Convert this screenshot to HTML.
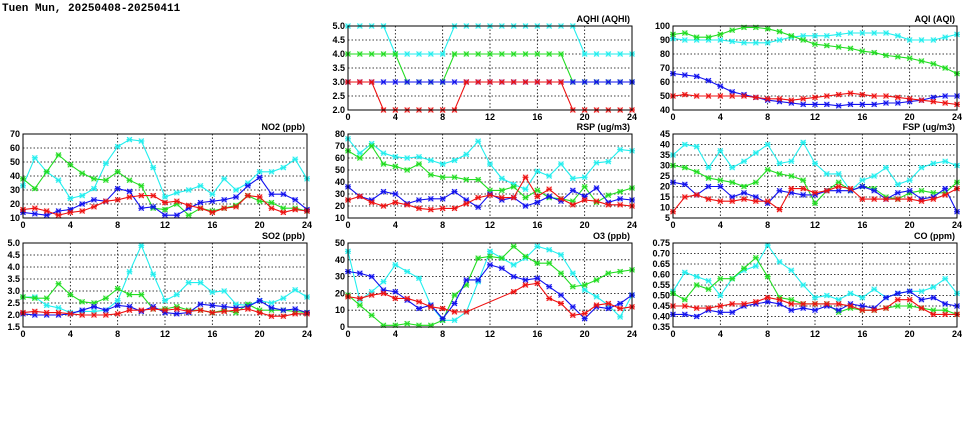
<!DOCTYPE html>
<html><head><meta charset="utf-8"><style>
body{margin:0;background:#fff;}
svg{display:block;font-family:"Liberation Sans",sans-serif;font-weight:bold;}
</style></head><body>
<svg id="s" width="975" height="447" viewBox="0 0 975 447" xmlns="http://www.w3.org/2000/svg">
<rect width="975" height="447" fill="#fff"/>
<text x="2" y="11" font-size="11" font-family="Liberation Mono, monospace" font-weight="bold">Tuen Mun, 20250408-20250411</text>
</svg>
<script>
const S=document.getElementById('s');const NS='http://www.w3.org/2000/svg';
function el(t,a,txt){const e=document.createElementNS(NS,t);for(const k in a)e.setAttribute(k,a[k]);if(txt!==undefined)e.textContent=txt;S.appendChild(e);return e;}
const C={c:'#22eeee',g:'#22dd22',b:'#1111ee',r:'#ee1111'};
function panel(x0,y0,title,min,max,step,dec,series){
 const w=284,h=84;
 const X=i=>x0+i*w/24, Y=v=>y0+h-(v-min)/(max-min)*h;
 for(let v=min;v<=max+1e-9;v+=step){const y=Y(v);
  if(v>min+1e-9&&v<max-1e-9)el('line',{x1:x0,x2:x0+w,y1:y,y2:y,stroke:'#000','stroke-width':0.8,'stroke-dasharray':'1.5,2'});
  el('text',{x:x0-3,y:y+3,'font-size':9,'text-anchor':'end'},v.toFixed(dec));}
 for(let i=0;i<=24;i+=4){const x=X(i);
  if(i>0&&i<24)el('line',{x1:x,x2:x,y1:y0,y2:y0+h,stroke:'#000','stroke-width':0.8,'stroke-dasharray':'1.5,2'});
  el('text',{x:x,y:y0+h+10,'font-size':9,'text-anchor':'middle'},i);}
 el('text',{x:x0+w-2,y:y0-4,'font-size':9,'text-anchor':'end'},title);
 for(const [k,d] of series){
  const pts=[];d.forEach((v,i)=>{if(v!==null)pts.push([X(i),Y(v)]);});
  el('polyline',{points:pts.map(p=>p.join(',')).join(' '),fill:'none',stroke:C[k],'stroke-width':1.1});
  for(const [x,y] of pts){
   el('rect',{x:x-2.5,y:y-2.5,width:5,height:5,fill:C[k],opacity:0.35});
   el('path',{d:`M${x-2.5},${y-2.5}L${x+2.5},${y+2.5}M${x+2.5},${y-2.5}L${x-2.5},${y+2.5}M${x-3},${y}H${x+3}`,stroke:C[k],'stroke-width':1});
  }
 }
 el('rect',{x:x0,y:y0,width:w,height:h,fill:'none',stroke:'#000','stroke-width':1});
}
const n=null;
panel(348,26,'AQHI (AQHI)',2,5,0.5,1,[
['c',[5,5,5,5,4,4,4,4,4,5,5,5,5,5,5,5,5,5,5,5,4,4,4,4,4]],
['g',[4,4,4,4,4,3,3,3,3,4,4,4,4,4,4,4,4,4,4,3,3,3,3,3,3]],
['b',[3,3,3,3,3,3,3,3,3,3,3,3,3,3,3,3,3,3,3,3,3,3,3,3,3]],
['r',[3,3,3,2,2,2,2,2,2,2,3,3,3,3,3,3,3,3,3,2,2,2,2,2,2]]]);
panel(673,26,'AQI (AQI)',40,100,10,0,[
['c',[91,90,90,90,90,89,88,88,88,90,92,93,93,93,94,95,95,95,95,93,90,90,90,92,94]],
['g',[94,95,92,92,94,97,99,99,98,96,93,90,87,86,85,84,82,81,79,78,77,75,73,70,66]],
['b',[66,65,64,61,57,53,51,49,47,46,45,44,44,44,43,44,44,44,45,45,46,47,49,50,50]],
['r',[50,51,50,50,50,50,50,49,48,48,47,48,49,50,51,52,51,50,50,49,48,47,46,45,44]]]);
panel(23,134,'NO2 (ppb)',10,70,10,0,[
['c',[33,53,43,37,24,26,31,49,61,66,65,46,25,28,30,33,27,38,30,35,43,43,46,52,38]],
['g',[38,31,43,55,48,42,38,37,43,37,33,17,16,20,12,17,15,17,19,26,22,21,17,17,15]],
['b',[14,13,12,15,16,20,23,22,31,29,17,18,12,12,17,21,22,23,25,33,39,27,27,23,16]],
['r',[16,17,15,12,14,15,18,22,23,25,26,26,21,22,19,17,14,17,18,26,25,17,14,16,15]]]);
panel(348,134,'RSP (ug/m3)',10,80,10,0,[
['c',[76,64,72,64,61,60,61,58,55,58,63,74,55,43,38,34,49,45,55,43,44,56,57,67,66]],
['g',[66,60,70,55,53,50,55,46,44,44,42,42,33,33,36,27,33,27,26,24,36,23,29,32,35]],
['b',[36,28,25,32,30,22,25,26,26,32,25,19,30,25,27,20,23,28,24,33,28,35,23,26,25]],
['r',[25,28,23,20,23,21,18,17,18,18,22,27,29,27,27,44,28,34,26,21,25,24,21,21,20]]]);
panel(673,134,'FSP (ug/m3)',5,45,5,0,[
['c',[35,40,39,29,37,29,32,36,40,31,32,41,31,26,26,18,23,25,29,21,23,29,31,32,30]],
['g',[30,29,27,24,23,22,20,22,28,26,25,23,12,18,22,18,20,19,15,14,17,18,17,17,22]],
['b',[22,21,16,20,20,15,17,15,12,18,17,16,16,18,18,18,20,18,14,17,18,14,15,19,8]],
['r',[8,15,16,14,13,13,14,13,13,9,19,19,17,18,20,19,14,14,14,14,14,13,14,16,19]]]);
panel(23,243,'SO2 (ppb)',1.5,5,0.5,1,[
['c',[2.75,2.75,2.4,2.3,2.1,2.15,2.15,2.2,2.6,3.8,4.9,3.7,2.6,2.85,3.35,3.35,2.95,3.0,2.45,2.4,2.6,2.5,2.7,3.05,2.75]],
['g',[2.75,2.7,2.7,3.3,2.85,2.55,2.5,2.7,3.1,2.85,2.85,2.25,2.25,2.35,2.2,2.2,2.1,2.2,2.1,2.45,2.2,2.2,2.2,2.15,2.1]],
['b',[2.05,2.0,2.0,2.0,2.05,2.2,2.35,2.2,2.4,2.35,2.15,2.35,2.1,2.05,2.1,2.45,2.4,2.35,2.3,2.35,2.6,2.3,2.2,2.25,2.1]],
['r',[2.1,2.15,2.1,2.1,2.05,2.0,2.0,2.0,2.05,2.2,2.2,2.25,2.2,2.25,2.15,2.2,2.1,2.15,2.2,2.25,2.1,1.95,1.95,2.05,2.05]]]);
panel(348,243,'O3 (ppb)',0,50,10,0,[
['c',[45,16,21,27,37,33,29,13,4,4,9,27,45,41,37,41,48,46,43,32,22,18,13,6,19]],
['g',[19,13,7,1,1,2,1,1,4,19,25,41,42,41,48,42,38,38,32,24,25,28,32,33,34]],
['b',[33,32,30,22,21,16,11,13,5,14,28,28,37,35,30,28,29,24,19,12,5,12,11,14,19]],
['r',[18,17,19,20,17,17,15,12,11,9,9,n,n,n,21,25,26,17,14,7,8,13,14,11,12]]]);
panel(673,243,'CO (ppm)',0.35,0.75,0.05,2,[
['c',[.52,.61,.59,.57,.50,.58,.62,.64,.74,.66,.62,.55,.49,.50,.48,.51,.49,.53,.49,.51,.52,.52,.54,.58,.51]],
['g',[.51,.48,.55,.53,.58,.58,.63,.68,.59,.49,.48,.46,.46,.46,.42,.44,.43,.43,.44,.45,.45,.44,.43,.43,.41]],
['b',[.41,.41,.40,.43,.42,.42,.45,.46,.47,.46,.43,.44,.43,.45,.43,.46,.45,.44,.49,.51,.52,.48,.49,.46,.45]],
['r',[.45,.45,.44,.44,.45,.46,.46,.47,.49,.48,.46,.46,.46,.46,.46,.45,.43,.43,.44,.48,.48,.44,.41,.41,.41]]]);
</script>
</body></html>
